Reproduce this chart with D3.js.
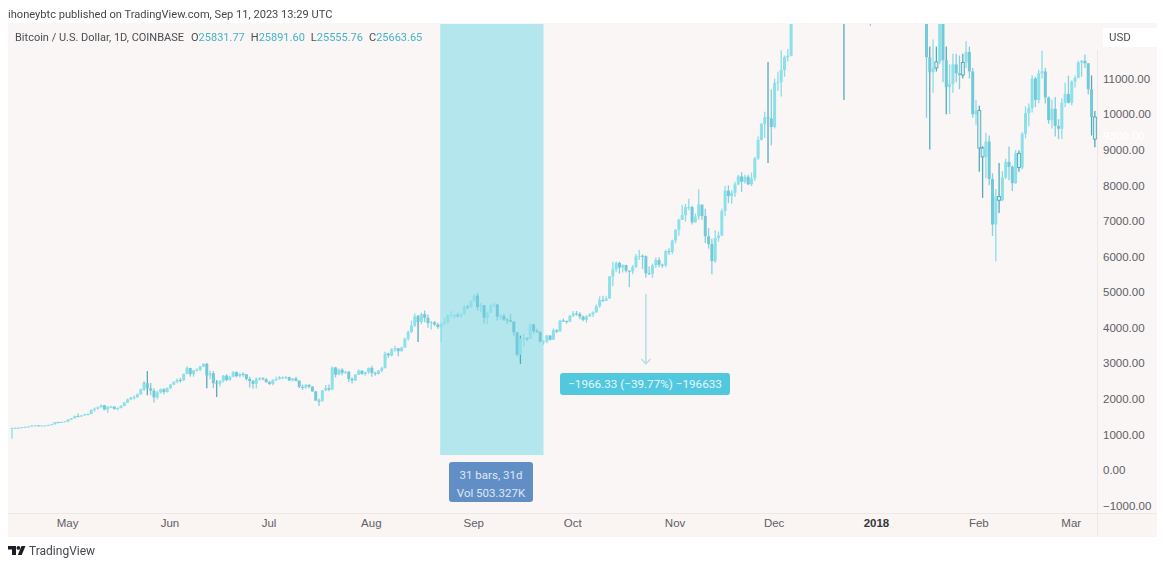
<!DOCTYPE html>
<html>
<head>
<meta charset="utf-8">
<script src="https://cdn.jsdelivr.net/npm/d3@7"></script>
<style>
  html, body { margin: 0; padding: 0; background: #fff; }
  svg { display: block; font-family: Roboto, "Open Sans", sans-serif; filter: blur(0.4px); }
</style>
</head>
<body>
<div id="chart"></div>
<script>
// Daily bars from 14 Apr 2017, one line per month
const firstDay = "2017-04-14";
const firstOpen = 1175;

const closes = [
  1180,1185,1187,1205,1213,1223,1250,1255,1245,1250,1250,1265,1285,1345,1340,1350,1370,
  1420,1455,1515,1510,1535,1570,1575,1690,1720,1765,1820,1700,1780,1780,1720,1740,1800,1890,1980,2040,2045,2130,2270,2440,2300,2230,2040,2180,2270,2190,2300,
  2400,2480,2530,2520,2700,2870,2690,2800,2820,2910,2980,2660,2720,2440,2430,2500,2650,2530,2620,2750,2640,2700,2690,2560,2500,2420,2560,2580,2550,2470,
  2420,2530,2550,2600,2610,2610,2520,2570,2510,2340,2310,2390,2340,2210,1950,1930,2240,2300,2260,2880,2680,2820,2730,2760,2560,2520,2680,2790,2700,2750,2870,
  2730,2700,2790,2860,3270,3220,3390,3420,3340,3440,3690,3880,4060,4320,4160,4380,4280,4130,4150,4090,4020,4100,4150,4340,4350,4350,4345,4390,4590,4580,4740,
  4900,4580,4630,4280,4420,4620,4650,4310,4330,4230,4210,4170,3870,3240,3700,3700,3690,4090,3910,3880,3610,3610,3780,3660,3930,3890,4200,4190,4170,4340,
  4400,4390,4310,4220,4320,4370,4430,4600,4780,4760,4820,5440,5640,5820,5690,5760,5600,5580,5710,6000,6020,6010,5530,5520,5750,5900,5770,5750,6150,6130,6450,
  6750,7030,7160,7390,7390,6960,7120,7460,7140,6570,6350,5870,6520,6590,7280,7850,7700,7790,8030,8250,8100,8240,8030,8200,8760,9280,9720,9910,9880,9640,
  10880,10900,11240,11600,11640,13790,16650,16000,14900,15200,16700,17200,16400,16600,17600,19500,19000,18900,17600,16450,15560,13860,14700,13950,14000,15750,15450,14200,14400,12700,13860,
  13500,14800,15100,15200,17150,17100,16200,14950,14400,14900,13300,13800,14200,13600,13600,11600,11180,11300,11470,12780,11520,10760,10850,11400,11150,11100,11450,11750,11200,10000,10100,
  9050,8800,9230,8180,6900,7690,7580,8220,8660,8520,8060,8900,8500,9450,10030,10170,11000,10400,11150,11200,10470,9830,10150,9670,9590,10320,10570,10320,
  10920,11020,11450,11500,11430,10700,9920,9300
];

const highs = [
  1190,1195,1195,1210,1220,1226,1260,1262,1258,1258,1258,1272,1300,1350,1355,1358,1375,
  1430,1460,1530,1590,1545,1580,1595,1700,1760,1785,1840,1830,1790,1805,1790,1760,1820,1920,2010,2060,2100,2150,2290,2480,2780,2450,2300,2230,2290,2300,2320,
  2420,2490,2570,2590,2710,2920,2870,2810,2860,2920,3000,3000,2790,2780,2520,2520,2670,2690,2650,2780,2770,2720,2750,2700,2620,2530,2600,2610,2610,2580,
  2500,2550,2620,2640,2630,2640,2620,2580,2620,2520,2400,2420,2420,2360,2220,2010,2250,2390,2400,2910,2900,2850,2860,2790,2780,2600,2690,2830,2800,2760,2880,
  2930,2760,2810,2900,3320,3290,3430,3490,3430,3460,3720,3920,4200,4400,4350,4420,4480,4370,4190,4190,4140,4140,4270,4370,4460,4380,4420,4400,4640,4640,4770,
  4930,4980,4700,4630,4450,4670,4690,4670,4370,4390,4260,4390,4190,3880,3780,3830,3730,4120,4110,3970,3900,3650,3800,3790,3980,3960,4220,4260,4200,4350,
  4470,4470,4430,4340,4350,4410,4460,4650,4880,4900,4880,5450,5850,5860,5860,5780,5770,5610,5760,6070,6190,6060,6030,5720,5800,5970,5980,5800,6190,6230,6470,
  6770,7060,7450,7480,7620,7430,7210,7880,7450,7340,6800,6500,6740,6700,7340,7990,8000,7860,8100,8300,8370,8300,8300,8360,8800,9370,9750,10070,11470,10700,
  11000,11190,11800,11650,11830,13900,16700,17300,16400,15800,17400,17500,17500,16900,17900,19700,19900,19100,19000,17900,17400,15800,15600,14500,14500,16000,16500,15500,15000,14500,14300,
  13900,15400,15400,15400,17200,17300,17100,16300,15400,14950,15000,14100,14600,14300,14000,13800,11900,12100,11900,13000,12800,11900,11400,11700,11700,11650,11700,12050,11900,11300,10400,
  10240,9100,9480,9400,8340,7900,8630,8400,8750,9090,8560,8990,8980,9500,10220,10300,11100,11050,11250,11780,11300,10500,10410,10480,9860,10450,10880,11080,
  10950,11090,11500,11520,11680,11440,11090,10090
];

const lows = [
  880,1170,1178,1180,1198,1208,1220,1240,1232,1238,1235,1248,1260,1282,1320,1325,1345,
  1345,1400,1445,1480,1490,1530,1530,1570,1640,1700,1760,1680,1610,1740,1690,1680,1735,1790,1880,1960,1980,2030,2110,2240,2100,2100,1900,1990,2150,2130,2180,
  2280,2380,2440,2460,2510,2690,2620,2620,2770,2780,2900,2300,2550,2300,2050,2350,2460,2490,2510,2610,2600,2600,2620,2520,2320,2280,2290,2510,2520,2450,
  2390,2380,2500,2550,2550,2560,2500,2490,2490,2300,2250,2280,2300,2200,1950,1800,1930,2220,2210,2250,2600,2660,2660,2700,2470,2430,2500,2670,2680,2650,2700,
  2620,2650,2680,2750,2860,3150,3190,3320,3200,3330,3440,3630,3850,4020,3600,4100,4150,4000,3950,4050,3970,3600,4080,4110,4320,4260,4290,4280,4380,4520,4560,
  4730,4480,4430,4120,4100,4420,4590,4200,4210,4190,4110,4150,3760,3200,2978,3480,3620,3680,3830,3860,3580,3520,3560,3640,3660,3840,3890,4160,4110,4150,
  4300,4340,4240,4180,4140,4300,4300,4420,4560,4720,4740,4810,5170,5560,5520,5550,5550,5140,5500,5680,5900,5650,5400,5480,5400,5680,5700,5680,5700,6040,6060,
  6370,6580,7030,6980,7300,6900,6950,7030,7030,6380,6220,5500,5820,6420,6570,7130,7500,7480,7680,8000,7820,8050,8000,7980,8120,8710,9260,9330,8630,9130,
  9600,10650,10500,11050,11480,11630,13700,13900,13000,13000,15000,16300,15600,16000,16500,17500,18600,18000,16300,15000,14700,10400,13600,12600,13600,13800,14800,13600,13900,12480,12700,
  12800,13200,14700,14600,14900,16000,15600,14300,14000,13400,12750,13000,13700,12800,13400,9900,9005,10600,11200,11400,10900,10000,10000,10600,10900,10700,11000,11300,11000,9900,9700,
  8380,7650,8200,8000,6580,5870,7220,7550,8180,8140,7840,8040,8380,8450,9320,9660,10050,10200,10310,11000,10300,9730,9600,9370,9300,9300,10200,10300,
  10250,10750,11010,11050,11300,10550,9400,9070
];

// Bars drawn with a dark outline in the picture, and bars with only a dark wick
const outlinedDays = ["2018-01-19","2018-01-27","2018-02-01","2018-02-02","2018-02-07","2018-02-13","2018-03-08"];
const darkWickDays = ["2017-05-24","2017-05-25","2017-06-12","2017-06-15","2017-08-15","2017-09-15","2017-11-29","2017-12-22","2018-01-17","2018-01-22","2018-03-07"];

const priceTicks = [-1000,0,1000,2000,3000,4000,5000,6000,7000,8000,9000,10000,11000];
const monthTicks = ["2017-05-01","2017-06-01","2017-07-01","2017-08-01","2017-09-01","2017-10-01","2017-11-01","2017-12-01","2018-01-01","2018-02-01","2018-03-01"];

// Date range tool and price range tool
const rangeStart = "2017-08-22";
const rangeEnd = "2017-09-22";
const rangeLowPrice = 420;
const measureDay = "2017-10-23";
const measureFrom = 4944.3;
const measureTo = 2978;

const width = 1170;
const height = 567;
const parseDay = d3.utcParse("%Y-%m-%d");
const fmtDay = d3.utcFormat("%Y-%m-%d");

const bars = closes.map((c, i) => ({
  date: d3.utcDay.offset(parseDay(firstDay), i),
  open: i ? closes[i - 1] : firstOpen,
  close: c,
  high: highs[i],
  low: lows[i]
}));

const x = d3.scaleUtc()
  .domain([parseDay(firstDay), parseDay("2018-02-01")])
  .range([12, 979.3]);
const y = d3.scaleLinear()
  .domain([0, 11000])
  .range([470, 78.6]);

const svg = d3.select("#chart").append("svg")
  .attr("width", width)
  .attr("height", height);

// Panels
svg.append("rect").attr("x", 8).attr("y", 23).attr("width", 1149).attr("height", 514).attr("fill", "#faf6f5");
svg.append("rect").attr("x", 8).attr("y", 514).attr("width", 1149).attr("height", 23).attr("fill", "#faf4f2");
svg.append("line").attr("x1", 8).attr("x2", 1157).attr("y1", 513.5).attr("y2", 513.5).attr("stroke", "#ebe8e7");
svg.append("line").attr("x1", 1097.5).attr("x2", 1097.5).attr("y1", 50).attr("y2", 537).attr("stroke", "#ebe8e7");

svg.append("defs").append("clipPath").attr("id", "plot")
  .append("rect").attr("x", 8).attr("y", 24).attr("width", 1089).attr("height", 489);
const plot = svg.append("g").attr("clip-path", "url(#plot)");

// Date range band
plot.append("rect")
  .attr("x", x(parseDay(rangeStart)) - 1)
  .attr("width", x(parseDay(rangeEnd)) - x(parseDay(rangeStart)) + 1)
  .attr("y", y.range()[1] - 60)
  .attr("height", y(rangeLowPrice) - y.range()[1] + 60)
  .attr("fill", "#b4e6ee");

// Candles
const barWidth = 3;
const candle = plot.append("g").selectAll("g")
  .data(bars)
  .enter()
  .append("g")
  .attr("class", "candle");

const isOutlined = d => outlinedDays.includes(fmtDay(d.date));
const isDarkWick = d => isOutlined(d) || darkWickDays.includes(fmtDay(d.date));

candle.append("line")
  .attr("x1", d => x(d.date))
  .attr("x2", d => x(d.date))
  .attr("y1", d => y(d.high))
  .attr("y2", d => y(d.low))
  .attr("stroke", d => isDarkWick(d) ? "#56a9ba" : (d.close >= d.open ? "#8adde8" : "#86cfdc"))
  .attr("stroke-width", 1.3);

candle.append("rect")
  .attr("x", d => x(d.date) - barWidth / 2)
  .attr("width", barWidth)
  .attr("y", d => y(Math.max(d.open, d.close)))
  .attr("height", d => Math.max(1, Math.abs(y(d.open) - y(d.close))))
  .attr("fill", d => isOutlined(d) ? "#d6f1f5" : (d.close >= d.open ? "#8ce0ea" : "#74c9d9"))
  .attr("stroke", d => isOutlined(d) ? "#3f9fb2" : "none")
  .attr("stroke-width", 0.8);

// Price range arrow
const ax = x(parseDay(measureDay));
plot.append("line")
  .attr("x1", ax).attr("x2", ax)
  .attr("y1", y(measureFrom)).attr("y2", y(measureTo))
  .attr("stroke", "#b5dde4").attr("stroke-width", 1.5);
plot.append("path")
  .attr("d", d3.line()([[ax - 4.5, y(measureTo) - 5], [ax, y(measureTo)], [ax + 4.5, y(measureTo) - 5]]))
  .attr("fill", "none").attr("stroke", "#b5dde4").attr("stroke-width", 1.3);

// Measure labels
svg.append("rect").attr("x", 560).attr("y", 373).attr("width", 170).attr("height", 22).attr("rx", 3).attr("fill", "#52c8de");
svg.append("text").attr("x", 645).attr("y", 388).attr("text-anchor", "middle")
  .attr("font-size", 11.7).attr("fill", "#e6f6f9").text("−1966.33 (−39.77%) −196633");

svg.append("rect").attr("x", 449).attr("y", 462).attr("width", 84).attr("height", 40).attr("rx", 3).attr("fill", "#628ec6");
svg.append("text").attr("x", 491).attr("y", 479).attr("text-anchor", "middle")
  .attr("font-size", 11.5).attr("fill", "#dfe8f4").text("31 bars, 31d");
svg.append("text").attr("x", 491).attr("y", 497).attr("text-anchor", "middle")
  .attr("font-size", 11.5).attr("fill", "#dfe8f4").text("Vol 503.327K");

// Axes
const yAxis = d3.axisRight(y)
  .tickValues(priceTicks)
  .tickSize(0)
  .tickPadding(6)
  .tickFormat(d => d3.format(".2f")(d).replace("-", "−"));
svg.append("g")
  .attr("transform", "translate(1097,0)")
  .call(yAxis)
  .call(g => g.select(".domain").remove())
  .selectAll("text")
  .attr("font-size", 11.5)
  .attr("fill", "#5d6066");

const xAxis = d3.axisBottom(x)
  .tickValues(monthTicks.map(parseDay))
  .tickSize(0)
  .tickPadding(5)
  .tickFormat(d => d.getUTCMonth() === 0 ? d.getUTCFullYear() : d3.utcFormat("%b")(d));
svg.append("g")
  .attr("transform", "translate(-1,514)")
  .call(xAxis)
  .call(g => g.select(".domain").remove())
  .selectAll("text")
  .attr("font-size", 11.5)
  .attr("fill", d => d.getUTCMonth() === 0 ? "#33363b" : "#5d6066")
  .attr("font-weight", d => d.getUTCMonth() === 0 ? 700 : 400);

// Last price label, almost lost against the panel
svg.append("text").attr("x", 1103).attr("y", y(closes[closes.length - 1]) + 1)
  .attr("font-size", 11.5).attr("fill", "#ffffff").text(d3.format(".2f")(closes[closes.length - 1]));

// Currency box
svg.append("rect").attr("x", 1103).attr("y", 28).attr("width", 54).attr("height", 19).attr("rx", 2).attr("fill", "#fff");
svg.append("text").attr("x", 1109).attr("y", 41).attr("font-size", 11.5).attr("fill", "#4a4d52").text("USD");

// Header
svg.append("text").attr("x", 8).attr("y", 18).attr("font-size", 11.1).attr("fill", "#43464b")
  .text("ihoneybtc published on TradingView.com, Sep 11, 2023 13:29 UTC");

const legend = svg.append("text").attr("x", 15).attr("y", 41).attr("font-size", 11).attr("fill", "#4a4d52");
legend.append("tspan").text("Bitcoin / U.S. Dollar, 1D, COINBASE");
[["O", "25831.77", 7], ["H", "25891.60", 6], ["L", "25555.76", 6], ["C", "25663.65", 6]].forEach(([k, v, gap]) => {
  legend.append("tspan").attr("dx", gap).text(k);
  legend.append("tspan").attr("fill", "#45b4c6").text(v);
});

// TradingView mark
const logo = svg.append("g").attr("transform", "translate(8,546)").attr("fill", "#1c1e23");
logo.append("path").attr("d", "M0 0H8V9H4V3.5H0Z");
logo.append("circle").attr("cx", 10.4).attr("cy", 1.9).attr("r", 1.9);
logo.append("path").attr("d", "M13.5 0H17.5L13.7 9H9.8Z");
svg.append("text").attr("x", 29).attr("y", 555).attr("font-size", 12).attr("fill", "#43464b").text("TradingView");
</script>
</body>
</html>
